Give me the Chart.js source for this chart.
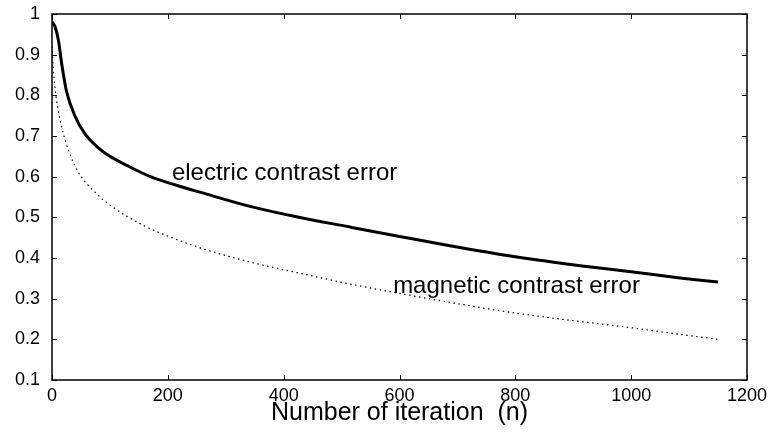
<!DOCTYPE html>
<html>
<head>
<meta charset="utf-8">
<script src="https://cdn.jsdelivr.net/npm/chart.js@4"></script>
<style>
html,body{margin:0;padding:0;background:#fff;}
#wrap{width:769px;height:436px;position:relative;}
</style>
</head>
<body>
<div id="wrap"><canvas id="c" width="769" height="436"></canvas></div>
<script>
const electricN = [0, 5, 11, 17, 25, 40, 57, 80, 100, 130, 170, 212, 260, 342, 420, 515, 600, 687, 800, 912, 1000, 1084, 1150];
const electricV = [0.981, 0.970, 0.936, 0.875, 0.810, 0.748, 0.705, 0.671, 0.650, 0.627, 0.600, 0.580, 0.560, 0.527, 0.502, 0.476, 0.453, 0.430, 0.403, 0.381, 0.366, 0.351, 0.341];
const magneticN = [0, 2, 5, 10, 17, 28, 45, 74, 103, 161, 207, 260, 342, 420, 515, 623, 687, 770, 855, 1003, 1080, 1150];
const magneticV = [0.92, 0.87, 0.82, 0.770, 0.720, 0.667, 0.612, 0.562, 0.527, 0.478, 0.450, 0.423, 0.390, 0.365, 0.336, 0.307, 0.291, 0.271, 0.254, 0.228, 0.213, 0.200];
const xTicks = [0, 200, 400, 600, 800, 1000, 1200];
const yTicks = [0.1, 0.2, 0.3, 0.4, 0.5, 0.6, 0.7, 0.8, 0.9, 1];
const xTitle = "Number of iteration  (n)";
const labelTexts = ["electric contrast error", "magnetic contrast error"];
const labelN = [207, 589];
const labelV = [0.607, 0.329];

const FONT = "'Liberation Sans', Arial, sans-serif";

const frameAndLabels = {
  id: 'frameAndLabels',
  afterDatasetsDraw(chart) {
    const ctx = chart.ctx, a = chart.chartArea;
    const xs = chart.scales.x, ys = chart.scales.y;
    ctx.save();
    ctx.strokeStyle = '#000';
    ctx.lineWidth = 1.5;
    ctx.strokeRect(a.left, a.top, a.right - a.left, a.bottom - a.top);
    ctx.lineWidth = 1;
    const L = 5;
    xTicks.forEach(t => {
      const px = Math.round(xs.getPixelForValue(t)) + 0.5;
      ctx.beginPath();
      ctx.moveTo(px, a.bottom); ctx.lineTo(px, a.bottom - L);
      ctx.moveTo(px, a.top); ctx.lineTo(px, a.top + L);
      ctx.stroke();
    });
    yTicks.forEach(t => {
      const py = Math.round(ys.getPixelForValue(t)) + 0.5;
      ctx.beginPath();
      ctx.moveTo(a.left, py); ctx.lineTo(a.left + L, py);
      ctx.moveTo(a.right, py); ctx.lineTo(a.right - L, py);
      ctx.stroke();
    });
    ctx.fillStyle = '#000';
    ctx.font = '24px ' + FONT;
    ctx.textBaseline = 'middle';
    ctx.textAlign = 'left';
    labelTexts.forEach((s, i) => {
      ctx.fillText(s, xs.getPixelForValue(labelN[i]), ys.getPixelForValue(labelV[i]));
    });
    ctx.restore();
  }
};

new Chart(document.getElementById('c'), {
  type: 'line',
  data: {
    datasets: [
      {
        label: labelTexts[0],
        data: electricN.map((n, i) => ({x: n, y: electricV[i]})),
        borderColor: '#000',
        borderWidth: 3,
        pointRadius: 0,
        cubicInterpolationMode: 'monotone',
        fill: false
      },
      {
        label: labelTexts[1],
        data: magneticN.map((n, i) => ({x: n, y: magneticV[i]})),
        borderColor: '#000',
        borderWidth: 1.2,
        borderDash: [1.5, 3.5],
        pointRadius: 0,
        cubicInterpolationMode: 'monotone',
        fill: false
      }
    ]
  },
  options: {
    responsive: false,
    animation: false,
    devicePixelRatio: 1,
    layout: {padding: {left: 0, top: 14, right: 22, bottom: 0}},
    plugins: {legend: {display: false}, tooltip: {enabled: false}},
    scales: {
      x: {
        type: 'linear',
        min: 0, max: 1200,
        afterBuildTicks(s) { s.ticks = xTicks.map(v => ({value: v})); },
        afterFit(s) { s.height = 56; s.paddingLeft = 0; s.paddingRight = 0; },
        grid: {display: false, drawTicks: false},
        border: {display: false},
        ticks: {color: '#000', font: {size: 18, family: FONT}, padding: 5, maxRotation: 0,
          callback: v => String(v)},
        title: {display: true, text: xTitle, color: '#000', font: {size: 25, family: FONT}, padding: {top: 0, bottom: 8}}
      },
      y: {
        type: 'linear',
        min: 0.1, max: 1,
        afterBuildTicks(s) { s.ticks = yTicks.map(v => ({value: v})); },
        afterFit(s) { s.width = 52; s.paddingTop = 0; s.paddingBottom = 0; },
        grid: {display: false, drawTicks: false},
        border: {display: false},
        ticks: {color: '#000', font: {size: 18, family: FONT}, padding: 12,
          callback: v => String(Number(v.toFixed(1)))}
      }
    }
  },
  plugins: [frameAndLabels]
});
</script>
</body>
</html>
